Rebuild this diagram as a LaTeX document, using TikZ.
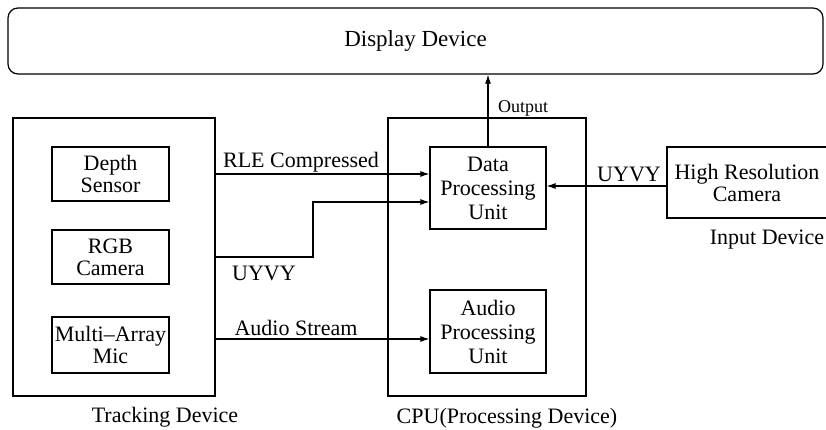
\documentclass[tikz,border=0pt]{standalone}
\usepackage{fontspec}
\setmainfont{Liberation Serif}
\usetikzlibrary{arrows.meta}
\begin{document}
\begin{tikzpicture}[x=1pt,y=-1pt,
  box/.style={draw,line width=1.2pt,inner sep=0pt,align=center,font=\fontsize{22}{22}\selectfont},
  lbl/.style={inner sep=0pt,font=\fontsize{22}{22}\selectfont},
  conn/.style={line width=1.1pt,-{Latex[length=9pt,width=6pt]}}]
\useasboundingbox (0,0) rectangle (826,430);
\fill[white] (0,0) rectangle (826,430);
\node[box,rounded corners=10pt,minimum width=815pt,minimum height=66pt,font=\fontsize{23}{23}\selectfont] (display) at (415.5,41) {Display Device};
\node[box,minimum width=202pt,minimum height=278pt] (track) at (114,257) {};
\node[box,minimum width=117pt,minimum height=54pt] (depth) at (110.5,174) {Depth\\Sensor};
\node[box,minimum width=117pt,minimum height=54pt] (rgb) at (110.5,257) {RGB\\Camera};
\node[box,minimum width=117pt,minimum height=56pt] (mic) at (110.5,345) {Multi--Array\\Mic};
\node[box,minimum width=198pt,minimum height=278pt] (cpu) at (487,257) {};
\node[box,minimum width=116pt,minimum height=82pt,font=\fontsize{22}{24}\selectfont] (dpu) at (488,188) {Data\\Processing\\Unit};
\node[box,minimum width=116pt,minimum height=83pt,font=\fontsize{22}{24}\selectfont] (apu) at (488,331.5) {Audio\\Processing\\Unit};
\node[box,minimum width=160pt,minimum height=71pt] (cam) at (747,182.5) {High Resolution\\Camera};
\node[lbl] (tracklbl) at (165,417) {Tracking Device};
\node[lbl] (cpulbl) at (507,418) {CPU(Processing Device)};
\node[lbl] (inlbl) at (767,240) {Input Device};
\node[lbl] (rlelbl) at (301,162) {RLE Compressed};
\node[lbl] (uyvylbl) at (264,273) {UYVY};
\node[lbl] (audlbl) at (296,328) {Audio Stream};
\node[lbl] (uyvy2) at (629,174) {UYVY};
\node[lbl,anchor=west,font=\fontsize{18}{18}\selectfont] (outlbl) at (498,108) {Output};
\coordinate (b1) at (313,257);
\coordinate (b2) at (313,202);
\draw[conn] (track.east |- 0,174) -- (dpu.west |- 0,174);
\draw[conn] (track.east |- b1) -- (b1) -- (b2) -- (dpu.west |- b2);
\draw[conn] (track.east |- 0,339) -- (apu.west |- 0,339);
\draw[conn] (cam.west |- 0,186) -- (dpu.east |- 0,186);
\draw[conn] (dpu.north) -- (display.south -| dpu.north);
\end{tikzpicture}
\end{document}
